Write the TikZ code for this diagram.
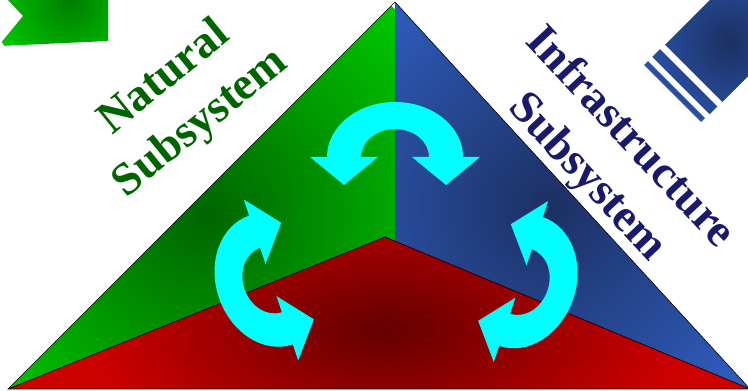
\documentclass[tikz,border=0pt]{standalone}
\usepackage{fontspec}
\setmainfont{Liberation Serif}
\usepackage{xcolor}
\usepackage{tikz}
\usetikzlibrary{positioning}

\definecolor{natdark}{RGB}{0,100,0}
\definecolor{natlight}{RGB}{0,200,0}
\definecolor{flagdark}{RGB}{0,125,0}
\definecolor{infdark}{RGB}{28,48,98}
\definecolor{inflight}{RGB}{50,100,205}
\definecolor{socdark}{RGB}{100,0,0}
\definecolor{soclight}{RGB}{205,0,0}
\definecolor{textblue}{RGB}{25,25,110}
\definecolor{loopcyan}{RGB}{0,255,255}

\tikzset{
    turnarrow/.pic={
        \fill[loopcyan] (68,0) arc[start angle=0, end angle=180, x radius=68, y radius=55]
            -- (-85,0) -- (-51,-28) -- (-17,0) -- (-34,0)
            arc[start angle=180, end angle=0, x radius=34, y radius=28]
            -- (17,0) -- (51,-28) -- (85,0) -- cycle;
    },
    labeltext/.style={font=\fontsize{46}{58}\selectfont\bfseries, align=center},
    edgeline/.style={black, line width=0.6pt}
}

\begin{document}
\begin{tikzpicture}[x=1pt, y=1pt]
        \useasboundingbox (0,0) rectangle (748,391);
        \clip (0,0) rectangle (748,391);
        \coordinate (top) at (395,389);
        \coordinate (left) at (8,2);
        \coordinate (right) at (750,2);
        \coordinate (mid) at (385,154);
        \coordinate (split) at (395,2);
        % natural side
        \begin{scope}
            \clip (top) -- (left) -- (split) -- cycle;
            \shade[inner color=natdark, outer color=natlight] (205,176) circle (280);
        \end{scope}
        % infrastructure side
        \begin{scope}
            \clip (top) -- (split) -- (right) -- cycle;
            \shade[inner color=infdark, outer color=inflight] (550,186) circle (300);
        \end{scope}
        % bottom part
        \begin{scope}
            \clip (left) -- (mid) -- (right) -- cycle;
            \fill[soclight] (0,0) rectangle (750,160);
            \shade[inner color=socdark, outer color=soclight] (385,62) ellipse [x radius=300, y radius=150];
        \end{scope}
        \draw[edgeline] (top) -- (left) -- (right) -- cycle;
        \draw[edgeline] (left) -- (mid) -- (right);
        % corner flags
        \begin{scope}
            \clip (7,392) -- (23,375) -- (0,347) -- (0,345) -- (108,350) -- (108,392) -- cycle;
            \shade[inner color=flagdark, outer color=natlight] (70,391) circle (80);
        \end{scope}
        \begin{scope}[shift={(0,391)}, rotate=45]
            \clip (438.7,-502) rectangle (560,-583) (421,-501.5) rectangle (432,-582.5)
                (409.5,-501.5) rectangle (415,-582);
            \shade[inner color=infdark, outer color=inflight] (486.5,-546) circle (120);
        \end{scope}
        % labels
        \node[labeltext, text=natdark, rotate=39] (natural) at (183,290) {Natural\\Subsystem};
        \node[labeltext, text=textblue, rotate=-47] (infra) at (608,233) {Infrastructure\\Subsystem};
        % arrows
        \pic at (395,234) {turnarrow};
        \pic[rotate=108.7] at (271,111) {turnarrow};
        \pic[rotate=-108.7] at (521,109.5) {turnarrow};
    \end{tikzpicture}
\end{document}
